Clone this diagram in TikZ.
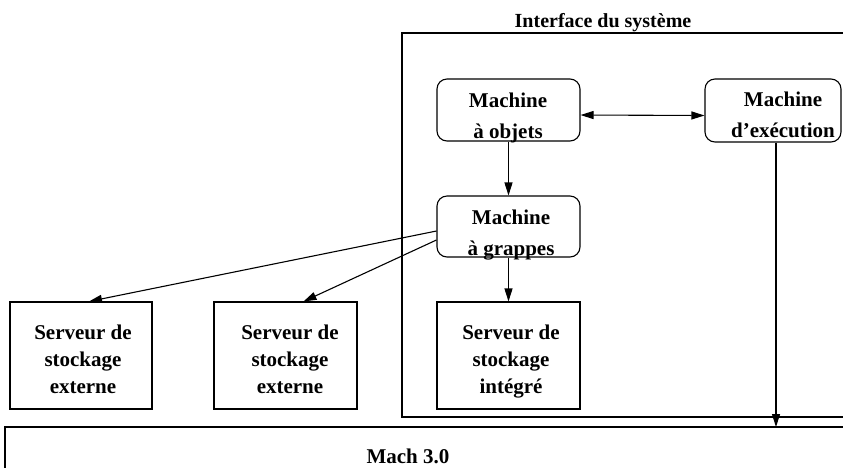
\documentclass[tikz,border=0pt]{standalone}
\usepackage{fontspec}
\setmainfont{Liberation Serif}
\usetikzlibrary{arrows.meta}

\tikzset{
  machbox/.style={draw, rounded corners=10pt, minimum width=143pt, minimum height=62pt, inner sep=0pt},
  servbox/.style={draw, minimum width=142pt, minimum height=107pt, inner sep=0pt},
  lbl/.style={inner sep=0pt, anchor=north, align=center, font=\bfseries\fontsize{21}{31}\selectfont},
  slbl/.style={inner sep=0pt, anchor=north, align=center, font=\bfseries\fontsize{21}{27}\selectfont},
  fl/.style={-{Triangle[length=13pt,width=8pt]}},
}

\begin{document}
\begin{tikzpicture}[x=1pt,y=-1pt,line width=1.1pt]
  \useasboundingbox (0,0) rectangle (843,467);
  \clip (0,0) rectangle (843,467);
  % frame of the system interface and Mach box
  \draw (850,33) -- (402,33) -- (402,417) -- (850,417);
  \draw (850,427) -- (5,427) -- (5,475);
  \node[inner sep=0pt, anchor=base, font=\bfseries\fontsize{20}{24}\selectfont] (titre) at (603,27) {Interface du système};
  \node[inner sep=0pt, anchor=base, font=\bfseries\fontsize{21}{25}\selectfont] (mach) at (408,463) {Mach 3.0};
  \coordinate (machtop) at (776,427);
  % machines
  \node[machbox] (objets) at (508.5,110) {};
  \node[machbox, minimum height=61pt] (grappes) at (508.5,226.5) {};
  \node[machbox, minimum width=136pt, minimum height=63pt] (exec) at (773,110.5) {};
  \node[lbl] (objetstxt) at (508,92) {Machine\\à objets};
  \node[lbl] (grappestxt) at (511,209) {Machine\\à grappes};
  \node[lbl] (exectxt) at (783,91) {Machine\\d'exécution};
  % storage servers
  \node[servbox] (ext1) at (81,355.5) {};
  \node[servbox, minimum width=143pt] (ext2) at (285.5,355.5) {};
  \node[servbox, minimum width=143pt] (integ) at (508.5,355.5) {};
  \node[slbl] (ext1txt) at (83,324) {Serveur de\\stockage\\externe};
  \node[slbl] (ext2txt) at (290,324) {Serveur de\\stockage\\externe};
  \node[slbl] (integtxt) at (511,324) {Serveur de\\stockage\\intégré};
  % arrows
  \draw[{Triangle[length=13pt,width=8pt]}-{Triangle[length=13pt,width=8pt]}] ([yshift=-5pt]objets.east) -- ([yshift=-5pt]exec.west);
  \draw[fl] (objets.south) -- (grappes.north);
  \draw[fl] (grappes.south) -- (integ.north);
  \draw[fl] ([yshift=-4.5pt]grappes.west) -- ([xshift=8pt]ext1.north);
  \draw[fl] ([yshift=-13.5pt]grappes.west) -- ([xshift=18pt]ext2.north);
  \draw[fl] ([xshift=3pt]exec.south) -- (machtop);
\end{tikzpicture}
\end{document}
